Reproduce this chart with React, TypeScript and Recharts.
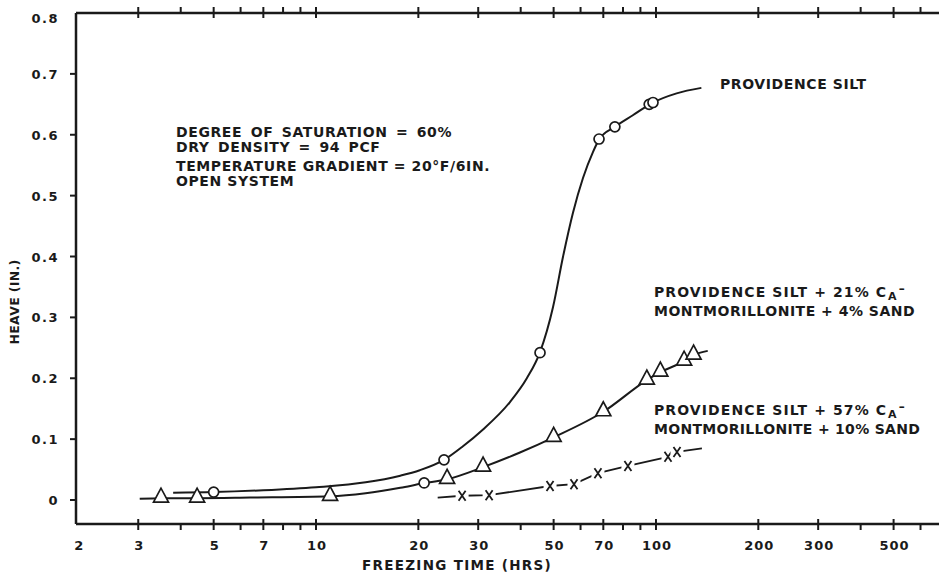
import React from 'react';
import { ComposedChart, Line, Scatter, XAxis, YAxis } from 'recharts';

const INK = '#1a1a1a';
const FONT = '"DejaVu Sans", Verdana, sans-serif';

// [freezing time (hrs), heave (in.)]
const siltCurve: [number, number][] = [
  [3.8, 0.012], [5, 0.013], [7, 0.016], [10, 0.021], [14, 0.029], [17.7, 0.04],
  [20.2, 0.049], [23.8, 0.066], [27, 0.088], [31, 0.116], [37.2, 0.161], [41.7, 0.2],
  [45.6, 0.243], [49.8, 0.317], [53.3, 0.4], [57, 0.472], [61, 0.529], [65.3, 0.572],
  [68, 0.592], [75.7, 0.613], [85.5, 0.632], [97.3, 0.652], [115, 0.668], [136, 0.677],
];
const siltPoints: [number, number][] = [
  [5, 0.013], [20.8, 0.028], [23.8, 0.066], [45.6, 0.242], [68, 0.593], [75.7, 0.613],
  [95.5, 0.65], [98, 0.653],
];

const ca21Curve: [number, number][] = [
  [3.03, 0.002], [3.5, 0.003], [4.47, 0.003], [6.4, 0.004], [11, 0.006], [14, 0.011],
  [17.7, 0.02], [20.5, 0.027], [24.3, 0.034], [31, 0.054], [39.8, 0.078], [50, 0.103],
  [70, 0.145], [94, 0.197], [103, 0.21], [121, 0.228], [129, 0.238], [142, 0.245],
];
const ca21Points: [number, number][] = [
  [3.5, 0.003], [4.47, 0.003], [11, 0.006], [24.3, 0.034], [31, 0.054], [50, 0.103],
  [70, 0.145], [94, 0.197], [103, 0.21], [121, 0.228], [129, 0.238],
];

const ca57Line: [number, number][] = [
  [22.8, 0.004], [26.9, 0.007], [32.3, 0.008], [48.8, 0.023], [57.4, 0.026], [67.5, 0.044],
  [82.7, 0.056], [108.5, 0.071], [115.3, 0.079], [136.5, 0.085],
];
// the first and last entries are just the line ends, no marker there
const ca57Marked = [false, true, true, true, true, true, true, true, true, false];

const xMajorTicks = [3, 5, 7, 10, 20, 30, 50, 70, 100, 200, 300, 500];
const xMinorTicks = [4, 6, 8, 9, 40, 60, 80, 90, 400, 600];
const xLabelTicks = [2, 3, 5, 7, 10, 20, 30, 50, 70, 100, 200, 300, 500];
const yTicks = [0, 0.1, 0.2, 0.3, 0.4, 0.5, 0.6, 0.7, 0.8];
const yTickLabels = ['0', '0.1', '0.2', '0.3', '0.4', '0.5', '0.6', '0.7', '0.8'];

const X_DOMAIN: [number, number] = [1.968, 694];
const Y_DOMAIN: [number, number] = [-0.0394, 0.8];

const allXTicks = Array.from(new Set([...xLabelTicks, ...xMajorTicks, ...xMinorTicks])).sort((a, b) => a - b);
const toRows = (pairs: [number, number][]) => pairs.map(([x, y]) => ({ x, y }));

const labelStyle = { fontFamily: FONT, fontWeight: 700, fill: INK } as const;

const tickLength = (v: number) => (xMajorTicks.includes(v) ? 11 : xMinorTicks.includes(v) ? 6 : 0);

const BottomTick = ({ x, y, payload }: any) => {
  const v = payload.value;
  const len = tickLength(v);
  return (
    <g>
      {len > 0 && <line x1={x} y1={y} x2={x} y2={y - len} stroke={INK} strokeWidth={2} />}
      {xLabelTicks.includes(v) && (
        <text x={x + 1} y={y + 20} textAnchor="middle" fontSize={13} letterSpacing={1} {...labelStyle}>
          {v}
        </text>
      )}
    </g>
  );
};

const TopTick = ({ x, y, payload }: any) => {
  const len = tickLength(payload.value);
  return len > 0 ? <line x1={x} y1={y} x2={x} y2={y + len} stroke={INK} strokeWidth={2} /> : <g />;
};

const LeftTick = ({ x, y, payload }: any) => {
  const i = yTicks.indexOf(payload.value);
  const top = payload.value === 0.8;
  return (
    <g>
      {!top && <line x1={x} y1={y} x2={x + 7} y2={y} stroke={INK} strokeWidth={2} />}
      <text x={x - 11} y={y + (top ? 10 : 5)} textAnchor="end" fontSize={13} letterSpacing={1.5} {...labelStyle}>
        {yTickLabels[i]}
      </text>
    </g>
  );
};

const RightTick = ({ x, y, payload }: any) =>
  payload.value === 0.8 ? <g /> : <line x1={x} y1={y} x2={x - 7} y2={y} stroke={INK} strokeWidth={2} />;

const OpenCircle = ({ cx, cy }: any) => (
  <circle cx={cx} cy={cy} r={5} fill="#fff" stroke={INK} strokeWidth={1.7} />
);

const OpenTriangle = ({ cx, cy }: any) => (
  <polygon
    points={`${cx},${cy - 10} ${cx - 7.5},${cy + 4} ${cx + 7.5},${cy + 4}`}
    fill="#fff"
    stroke={INK}
    strokeWidth={1.7}
    strokeLinejoin="miter"
  />
);

const CrossMark = (props: any) => {
  const { cx, cy, index } = props;
  if (!ca57Marked[index]) return <g key={`xm-${index}`} />;
  return (
    <g key={`xm-${index}`}>
      <rect x={cx - 6.5} y={cy - 6} width={13} height={12} fill="#fff" />
      <path
        d={`M${cx - 3.5},${cy - 5}L${cx + 3.5},${cy + 5}M${cx + 3.5},${cy - 5}L${cx - 3.5},${cy + 5}`}
        stroke={INK}
        strokeWidth={1.8}
      />
    </g>
  );
};

// "C" with a lowered "A" and a raised dash, as lettered on the sheet
const CaLine = ({ x, y, text }: { x: number; y: number; text: string }) => (
  <text x={x} y={y} fontSize={14} letterSpacing={1.1} {...labelStyle}>
    {text}
    <tspan dx={1} dy={3} fontSize={11} letterSpacing={0}>A</tspan>
    <tspan dx={2} dy={-7} fontSize={12} letterSpacing={0}>–</tspan>
  </text>
);

export default function App() {
  return (
    <div style={{ position: 'absolute', left: 0, top: 0, width: 939, height: 572, overflow: 'hidden', background: '#fff' }}>
      <ComposedChart width={960} height={572} margin={{ top: 0, right: 0, bottom: 0, left: 16 }}>
        <XAxis
          dataKey="x"
          type="number"
          scale="log"
          domain={X_DOMAIN}
          allowDataOverflow
          ticks={allXTicks}
          interval={0}
          height={48}
          tickLine={false}
          tickMargin={0}
          tick={<BottomTick />}
          axisLine={{ stroke: INK, strokeWidth: 2.5 }}
        />
        <XAxis
          xAxisId="top"
          orientation="top"
          dataKey="x"
          type="number"
          scale="log"
          domain={X_DOMAIN}
          allowDataOverflow
          ticks={allXTicks}
          interval={0}
          height={13}
          tickLine={false}
          tickMargin={0}
          tick={<TopTick />}
          axisLine={{ stroke: INK, strokeWidth: 2.5 }}
        />
        <YAxis
          dataKey="y"
          type="number"
          domain={Y_DOMAIN}
          allowDataOverflow
          ticks={yTicks}
          interval={0}
          width={60}
          tickLine={false}
          tickMargin={0}
          tick={<LeftTick />}
          axisLine={{ stroke: INK, strokeWidth: 2.5 }}
        />
        <YAxis
          yAxisId="right"
          orientation="right"
          dataKey="y"
          type="number"
          domain={Y_DOMAIN}
          allowDataOverflow
          ticks={yTicks}
          interval={0}
          width={18}
          tickLine={false}
          tickMargin={0}
          tick={<RightTick />}
          axisLine={{ stroke: INK, strokeWidth: 2.5 }}
        />

        <Line data={toRows(siltCurve)} dataKey="y" type="monotone" stroke={INK} strokeWidth={2}
          dot={false} activeDot={false} isAnimationActive={false} />
        <Line data={toRows(ca21Curve)} dataKey="y" type="monotone" stroke={INK} strokeWidth={2}
          dot={false} activeDot={false} isAnimationActive={false} />
        <Line data={toRows(ca57Line)} dataKey="y" type="linear" stroke={INK} strokeWidth={1.8}
          dot={CrossMark} activeDot={false} isAnimationActive={false} />

        <Scatter data={toRows(siltPoints)} shape={OpenCircle} isAnimationActive={false} />
        <Scatter data={toRows(ca21Points)} shape={OpenTriangle} isAnimationActive={false} />
      </ComposedChart>

      <svg width={939} height={572} style={{ position: 'absolute', left: 0, top: 0, pointerEvents: 'none' }}>
        <text x={19} y={302} textAnchor="middle" fontSize={12.5} letterSpacing={0.3}
          transform="rotate(-90 19 302)" {...labelStyle}>HEAVE (IN.)</text>
        <text x={457} y={570} textAnchor="middle" fontSize={13.5} letterSpacing={1.3} {...labelStyle}>
          FREEZING TIME (HRS)
        </text>

        <g fontSize={14} letterSpacing={0.6}>
          <text x={176} y={137} {...labelStyle} wordSpacing={3}>DEGREE OF SATURATION = 60%</text>
          <text x={176} y={152} {...labelStyle} wordSpacing={3}>DRY DENSITY = 94 PCF</text>
          <text x={176} y={171} {...labelStyle}>TEMPERATURE GRADIENT = 20°F/6IN.</text>
          <text x={176} y={186} {...labelStyle}>OPEN SYSTEM</text>
        </g>

        <text x={720} y={89} fontSize={14} letterSpacing={0.6} {...labelStyle}>PROVIDENCE SILT</text>

        <CaLine x={654} y={297} text="PROVIDENCE SILT + 21% C" />
        <text x={654} y={316} fontSize={14} letterSpacing={0.5} {...labelStyle}>MONTMORILLONITE + 4% SAND</text>

        <CaLine x={654} y={415} text="PROVIDENCE SILT + 57% C" />
        <text x={654} y={434} fontSize={14} letterSpacing={0.3} {...labelStyle}>MONTMORILLONITE + 10% SAND</text>
      </svg>
    </div>
  );
}
